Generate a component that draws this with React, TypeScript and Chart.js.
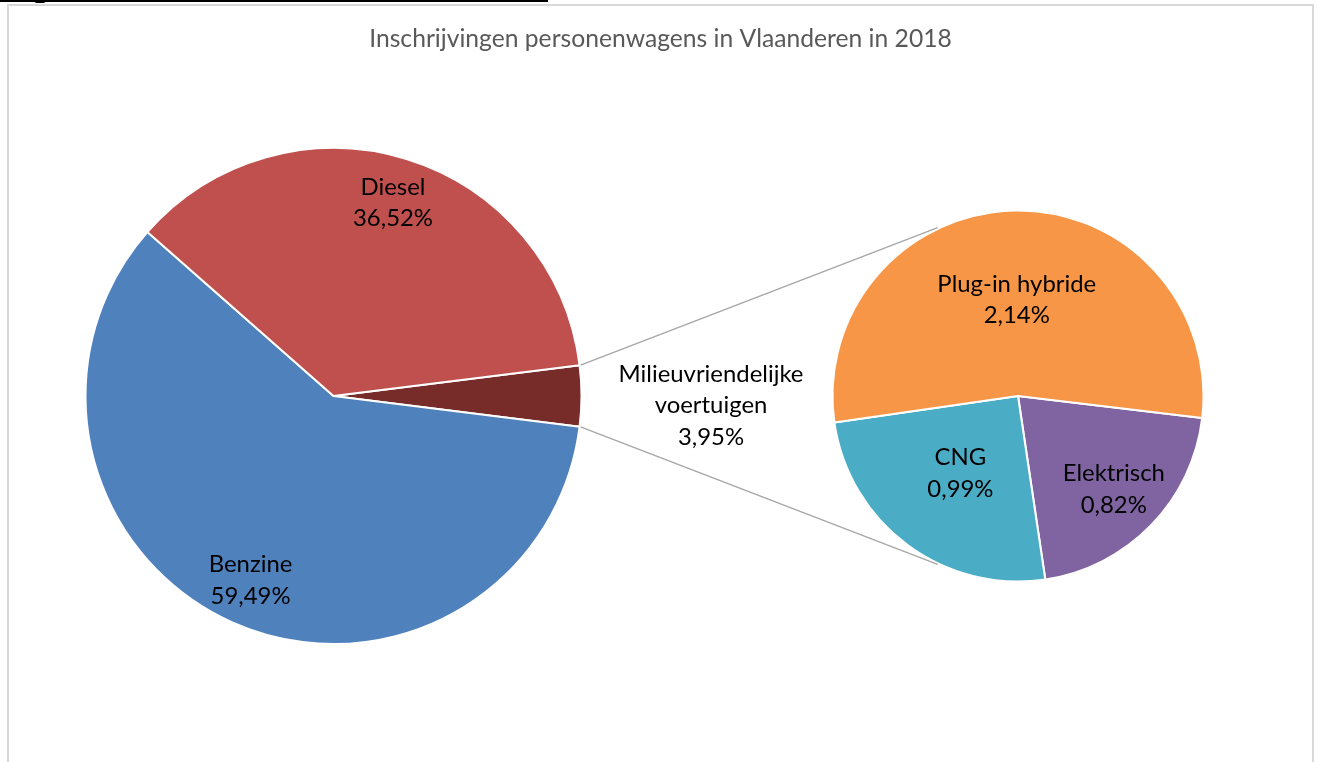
import React, { useEffect, useRef } from 'react';
import { Chart, registerables } from 'chart.js';

Chart.register(...registerables);

const TITLE = 'Inschrijvingen personenwagens in Vlaanderen in 2018';

const mainLabels = ['Milieuvriendelijke voertuigen', 'Benzine', 'Diesel'];
const mainValues = [3.95, 59.49, 36.52];
const mainColors = ['#772C2A', '#4F81BD', '#C0504D'];

const subLabels = ['Elektrisch', 'CNG', 'Plug-in hybride'];
const subValues = [0.82, 0.99, 2.14];
const subColors = ['#8064A2', '#4BACC6', '#F79646'];

const FONT = 'Lato, "Open Sans", sans-serif';
const fmt = (v: number) => v.toFixed(2).replace('.', ',') + '%';

function fitSize(ctx: CanvasRenderingContext2D, text: string, target: number) {
  ctx.save();
  ctx.font = `20px ${FONT}`;
  const w = ctx.measureText(text).width;
  ctx.restore();
  return (20 * target) / w;
}

function drawLines(ctx: CanvasRenderingContext2D, lines: string[], x: number, y: number, size: number, gap: number) {
  ctx.save();
  ctx.font = `${size}px ${FONT}`;
  ctx.fillStyle = '#000';
  ctx.textAlign = 'center';
  ctx.textBaseline = 'middle';
  const n = lines.length;
  lines.forEach((t, i) => {
    ctx.fillText(t, x, y + (i - (n - 1) / 2) * gap);
  });
  ctx.restore();
}

export default function App() {
  const mainRef = useRef<HTMLCanvasElement>(null);
  const subRef = useRef<HTMLCanvasElement>(null);

  useEffect(() => {
    const mainSum = mainValues.reduce((a, b) => a + b, 0);
    const subFrac = [0.72, 0.52, 0.52];
    const mainFrac = [0, 0.815, 0.815];

    const subChart = new Chart(subRef.current!, {
      type: 'pie',
      data: {
        labels: subLabels,
        datasets: [
          {
            data: subValues,
            backgroundColor: subColors,
            borderColor: '#ffffff',
            borderWidth: 2,
            radius: 185.5,
          } as any,
        ],
      },
      options: {
        responsive: false,
        animation: false,
        events: [],
        rotation: 96.8,
        layout: { padding: { left: 818, right: 99, top: 196, bottom: 166 } },
        plugins: { legend: { display: false }, tooltip: { enabled: false }, title: { display: false } },
      },
      plugins: [
        {
          id: 'subLabels',
          afterDraw(chart: any) {
            const ctx = chart.ctx as CanvasRenderingContext2D;
            const size = fitSize(ctx, 'Milieuvriendelijke', 185);
            chart.getDatasetMeta(0).data.forEach((arc: any, i: number) => {
              const { x, y, startAngle, endAngle, outerRadius } = arc.getProps(
                ['x', 'y', 'startAngle', 'endAngle', 'outerRadius'],
                true
              );
              const mid = (startAngle + endAngle) / 2;
              const r = outerRadius * subFrac[i];
              drawLines(ctx, [subLabels[i], fmt(subValues[i])], x + r * Math.cos(mid), y + r * Math.sin(mid), size, 31.5);
            });
          },
        },
      ],
    });

    const mainChart = new Chart(mainRef.current!, {
      type: 'pie',
      data: {
        labels: mainLabels,
        datasets: [
          {
            data: mainValues,
            backgroundColor: mainColors,
            borderColor: '#ffffff',
            borderWidth: 2,
            radius: 248,
          } as any,
        ],
      },
      options: {
        responsive: false,
        animation: false,
        events: [],
        rotation: 90 - (mainValues[0] / mainSum) * 180,
        layout: { padding: { left: 0, right: 650, top: 100, bottom: 70 } },
        plugins: { legend: { display: false }, tooltip: { enabled: false }, title: { display: false } },
      },
      plugins: [
        {
          id: 'mainDecor',
          afterDraw(chart: any) {
            const ctx = chart.ctx as CanvasRenderingContext2D;
            const tSize = fitSize(ctx, TITLE, 583);
            ctx.save();
            ctx.font = `${tSize}px ${FONT}`;
            ctx.fillStyle = '#595959';
            ctx.textAlign = 'center';
            ctx.textBaseline = 'middle';
            ctx.fillText(TITLE, 660.5, 39);
            ctx.restore();

            const size = fitSize(ctx, 'Milieuvriendelijke', 185);
            const arcs = chart.getDatasetMeta(0).data;
            const m = arcs[0].getProps(['x', 'y', 'startAngle', 'endAngle', 'outerRadius'], true);
            const s = subChart.getDatasetMeta(0).data[0] as any;
            const sp = s.getProps(['x', 'y', 'outerRadius'], true);
            const conn = (115.5 * Math.PI) / 180;
            const r1 = m.outerRadius + 1;
            const r2 = sp.outerRadius + 1;

            ctx.save();
            ctx.strokeStyle = '#A6A6A6';
            ctx.lineWidth = 1.3;
            ctx.beginPath();
            ctx.moveTo(m.x + r1 * Math.cos(m.startAngle), m.y + r1 * Math.sin(m.startAngle));
            ctx.lineTo(sp.x + r2 * Math.cos(-conn), sp.y + r2 * Math.sin(-conn));
            ctx.moveTo(m.x + r1 * Math.cos(m.endAngle), m.y + r1 * Math.sin(m.endAngle));
            ctx.lineTo(sp.x + r2 * Math.cos(conn), sp.y + r2 * Math.sin(conn));
            ctx.stroke();
            ctx.restore();

            arcs.forEach((arc: any, i: number) => {
              const p = arc.getProps(['x', 'y', 'startAngle', 'endAngle', 'outerRadius'], true);
              if (i === 0) {
                const lx = (p.x + p.outerRadius + sp.x - sp.outerRadius) / 2 + 4;
                drawLines(ctx, ['Milieuvriendelijke', 'voertuigen', fmt(mainValues[0])], lx, p.y + 9.5, size, 31.5);
                return;
              }
              const mid = (p.startAngle + p.endAngle) / 2;
              const r = p.outerRadius * mainFrac[i];
              drawLines(ctx, [mainLabels[i], fmt(mainValues[i])], p.x + r * Math.cos(mid), p.y + r * Math.sin(mid), size, 31.5);
            });
          },
        },
      ],
    });

    return () => {
      mainChart.destroy();
      subChart.destroy();
    };
  }, []);

  const canvasStyle: React.CSSProperties = {
    position: 'absolute',
    left: 0,
    top: 0,
    width: 1317,
    height: 762,
  };

  return (
    <div
      style={{
        position: 'fixed',
        left: 0,
        top: 0,
        width: 1317,
        height: 762,
        overflow: 'hidden',
        background: '#ffffff',
      }}
    >
      <div style={{ position: 'absolute', left: 0, top: 0, width: 548, height: 1.5, background: '#000' }} />
      <div
        style={{
          position: 'absolute',
          left: 34,
          top: 0,
          width: 12,
          height: 3,
          background: '#000',
          borderRadius: '0 0 6px 6px',
        }}
      />
      <div
        style={{
          position: 'absolute',
          left: 7,
          top: 4,
          width: 1307,
          height: 820,
          border: '2px solid #D9D9D9',
          boxSizing: 'border-box',
        }}
      />
      <canvas ref={subRef} width={1317} height={762} style={canvasStyle} />
      <canvas ref={mainRef} width={1317} height={762} style={canvasStyle} />
    </div>
  );
}
